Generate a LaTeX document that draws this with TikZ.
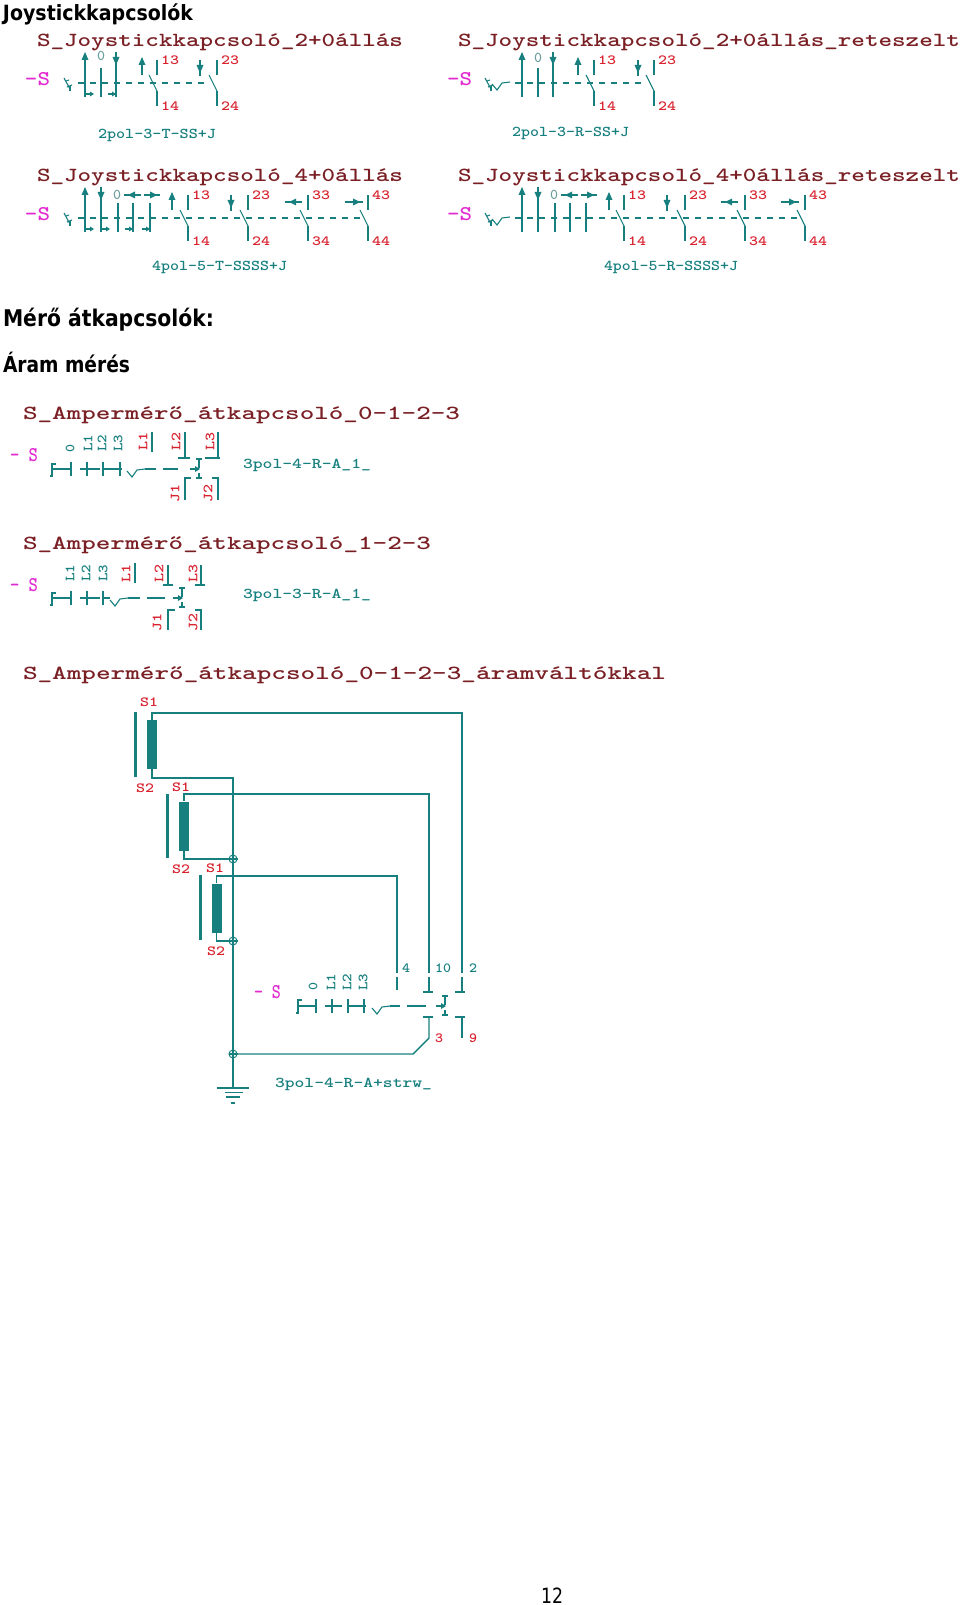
\documentclass[tikz,border=0pt]{standalone}
\usepackage{graphicx}
\usepackage{fontspec}
\setmainfont{DejaVu Sans}
\definecolor{tl}{HTML}{17807F}
\definecolor{dr}{HTML}{7A2025}
\definecolor{rd}{HTML}{D8232F}
\definecolor{mg}{HTML}{E22BD0}
\definecolor{gy}{HTML}{6F9E9E}
\newcounter{lb}
% fit text into an exact width, keeping natural height
\newcommand\fitw[2]{\resizebox{#1pt}{\height}{#2}}
\tikzset{
  wire/.style={draw=tl,line width=1.4pt},
  thin wire/.style={draw=tl,line width=1.1pt},
  dashline/.style={draw=tl,line width=1.1pt,dash pattern=on 6pt off 6pt},
  lbl/.style={inner sep=0pt,outer sep=0pt,anchor=center},
  titletxt/.style={lbl,text=dr,font=\ttfamily\bfseries\fontsize{20}{20}\selectfont},
  captxt/.style={lbl,text=tl,font=\ttfamily\bfseries\fontsize{15}{15}\selectfont},
  numtxt/.style={lbl,text=rd,font=\ttfamily\bfseries\fontsize{14}{14}\selectfont},
  tealtxt/.style={lbl,text=tl,font=\ttfamily\bfseries\fontsize{14}{14}\selectfont},
  graytxt/.style={lbl,text=gy,font=\ttfamily\bfseries\fontsize{15}{15}\selectfont},
  magtxt/.style={lbl,text=mg,font=\ttfamily\bfseries\fontsize{21}{21}\selectfont},
  headtxt/.style={inner sep=0pt,outer sep=0pt,anchor=base west,font=\bfseries\fontsize{21}{21}\selectfont},
  ctbar/.style={fill=tl,draw=none},
  junction/.style={circle,draw=tl,line width=1pt,fill=white,minimum size=8pt,inner sep=0pt},
}
% #1 style, #2 x-left, #3 x-right, #4 y, #5 text
\newcommand\tx[5]{\stepcounter{lb}\pgfmathsetmacro\twd{(#3)-(#2)}\pgfmathsetmacro\tcx{((#2)+(#3))/2}\node[#1] (t\thelb) at (\tcx,#4) {\fitw{\twd}{#5}};}
% rotated label: #1 style, #2 x, #3 y, #4 length, #5 text
\newcommand\rtx[5]{\stepcounter{lb}\node[#1,rotate=90] (t\thelb) at (#2,#3) {\fitw{#4}{#5}};}
% arrows: vertical with head up / down, horizontal with head left / right
\newcommand\upA[3]{\draw[wire] (#1,#2)--(#1,#3);\fill[tl] (#1,#2-2)--(#1-3.5,#2+6)--(#1+3.5,#2+6)--cycle;}
\newcommand\dnA[3]{\draw[wire] (#1,#2)--(#1,#3);\fill[tl] (#1-3.5,#2+5)--(#1+3.5,#2+5)--(#1,#2+13)--cycle;}
\newcommand\ltA[3]{\draw[wire] (#1,#3)--(#2,#3);\fill[tl] (#1+4,#3)--(#1+11,#3-3.5)--(#1+11,#3+3.5)--cycle;}
\newcommand\rtA[3]{\draw[wire] (#1,#3)--(#2,#3);\fill[tl] (#2-3,#3)--(#2-10,#3-3.5)--(#2-10,#3+3.5)--cycle;}
\newcommand\smR[2]{\draw[thin wire] (#1,#2)--(#1+8,#2);\fill[tl] (#1+9,#2)--(#1+5,#2-2.5)--(#1+5,#2+2.5)--cycle;}
\newcommand\smL[2]{\draw[thin wire] (#1,#2)--(#1-8,#2);\fill[tl] (#1,#2)--(#1-4,#2-2.5)--(#1-4,#2+2.5)--cycle;}
% switch: #1 x, #2 top y, #3 upper label, #4 lower label
\newcommand\sw[4]{\draw[wire] (#1,#2)--(#1,#2+15);\draw[thin wire] (#1-8,#2+15)--(#1,#2+31);\draw[wire] (#1,#2+31)--(#1,#2+46);
  \tx{numtxt}{#1+4}{#1+22}{#2}{#3}\tx{numtxt}{#1+4}{#1+22}{#2+46}{#4}}
% lever symbol at x, y (dash level)
\newcommand\lev[2]{\draw[thin wire] (#1,#2-5)--(#1+6,#2+6);\draw[thin wire] (#1+2,#2-2)--(#1+5,#2-3);\draw[thin wire] (#1+3,#2+4)--(#1+8,#2+2);\draw[thin wire] (#1+6,#2+3)--(#1+6,#2+8);}
\newcommand\vsym[2]{\draw[thin wire] (#1,#2+1)--(#1+5,#2+7)--(#1+10,#2)--(#1+18,#2-1);}
% change-over core: #1 x, #2 mech y
\newcommand\core[2]{\draw[thin wire] (#1-3,#2-10)--(#1+3,#2-10) (#1,#2-10)--(#1,#2-1);
  \draw[thin wire] (#1-9,#2)--(#1,#2);\fill[tl] (#1+1,#2)--(#1-4,#2-3)--(#1-4,#2+3)--cycle;
  \draw[thin wire] (#1,#2+4)--(#1,#2+9) (#1-3,#2+9)--(#1+3,#2+9);}
\begin{document}
\begin{tikzpicture}[x=1pt,y=-1pt]
\useasboundingbox (0,0) rectangle (960,1605);
% headings
\node[headtxt] (h1) at (3,21) {\resizebox{190pt}{\height}{Joystickkapcsolók}};
\node[headtxt] (h2) at (3,326) {\resizebox{211pt}{\height}{\fontsize{23}{23}\selectfont Mérő átkapcsolók:}};
\node[headtxt] (h3) at (3,372) {\resizebox{127pt}{\height}{\fontsize{22}{22}\selectfont Áram mérés}};
\node[inner sep=0pt,anchor=base west,font=\fontsize{21}{21}\selectfont] (pg) at (541,1603) {\resizebox{22pt}{\height}{12}};
% ---- row 1 left
\tx{titletxt}{37}{403}{42}{S\_Joystickkapcsoló\_2+0állás}
\tx{magtxt}{25}{50}{79}{-S}
\lev{64}{83}
\draw[dashline] (78,83)--(205,83);
\upA{85}{54}{97}\smR{85}{94}
\draw[wire] (101,68)--(101,97);
\tx{graytxt}{97}{105}{56}{0}
\dnA{116}{52}{97}\smL{116}{94}
\upA{142}{59}{75}
\sw{157}{60}{13}{14}
\dnA{200}{60}{76}
\sw{217}{60}{23}{24}
\tx{captxt}{98}{216}{135}{2pol-3-T-SS+J}
% ---- row 1 right
\tx{titletxt}{458}{960}{42}{S\_Joystickkapcsoló\_2+0állás\_reteszelt}
\tx{magtxt}{447}{472}{79}{-S}
\lev{485}{83}\vsym{492}{83}
\draw[dashline] (515,83)--(642,83);
\upA{522}{54}{97}
\draw[wire] (538,68)--(538,97);
\tx{graytxt}{534}{542}{58}{0}
\dnA{553}{52}{97}
\upA{578}{59}{75}
\sw{594}{60}{13}{14}
\dnA{638}{60}{76}
\sw{654}{60}{23}{24}
\tx{captxt}{512}{629}{133}{2pol-3-R-SS+J}
% ---- row 2 left
\tx{titletxt}{37}{403}{177}{S\_Joystickkapcsoló\_4+0állás}
\tx{magtxt}{25}{50}{214}{-S}
\lev{64}{218}
\draw[dashline] (78,218)--(365,218);
\upA{85}{189}{232}\smR{85}{229}
\dnA{101}{187}{232}\smR{101}{229}
\draw[wire] (118,203)--(118,232);
\tx{graytxt}{113}{121}{195}{0}
\draw[wire] (133,203)--(133,232);\smL{133}{229}\ltA{124}{141}{195}
\draw[wire] (150,203)--(150,232);\smL{150}{229}\rtA{144}{160}{195}
\upA{172}{194}{210}
\sw{188}{195}{13}{14}
\dnA{231}{195}{211}
\sw{248}{195}{23}{24}
\ltA{285}{302}{202}
\sw{308}{195}{33}{34}
\rtA{345}{363}{202}
\sw{368}{195}{43}{44}
\tx{captxt}{152}{287}{267}{4pol-5-T-SSSS+J}
% ---- row 2 right
\tx{titletxt}{458}{960}{177}{S\_Joystickkapcsoló\_4+0állás\_reteszelt}
\tx{magtxt}{447}{472}{214}{-S}
\lev{485}{218}\vsym{492}{218}
\draw[dashline] (515,218)--(802,218);
\upA{522}{189}{232}
\dnA{538}{187}{232}
\draw[wire] (555,203)--(555,232);
\tx{graytxt}{550}{558}{195}{0}
\draw[wire] (570,203)--(570,232);\ltA{561}{578}{195}
\draw[wire] (586,203)--(586,232);\rtA{581}{597}{195}
\upA{609}{194}{210}
\sw{624}{195}{13}{14}
\dnA{667}{195}{211}
\sw{685}{195}{23}{24}
\ltA{721}{738}{202}
\sw{745}{195}{33}{34}
\rtA{781}{799}{202}
\sw{805}{195}{43}{44}
\tx{captxt}{604}{738}{267}{4pol-5-R-SSSS+J}
% ---- ammeter 1
\tx{titletxt}{23}{460}{415}{S\_Ampermérő\_átkapcsoló\_0-1-2-3}
\tx{magtxt}{10}{38}{455}{- S}
\rtx{tealtxt}{70}{448}{8}{0}
\rtx{tealtxt}{88}{443}{17}{L1}
\rtx{tealtxt}{102}{443}{17}{L2}
\rtx{tealtxt}{118}{443}{17}{L3}
\rtx{numtxt}{143}{441}{18}{L1}
\rtx{numtxt}{176}{441}{18}{L2}
\rtx{numtxt}{210}{441}{18}{L3}
\draw[wire] (152,432)--(152,452);
\draw[wire] (185,432)--(185,458) (178,458)--(190,458);
\draw[wire] (218,432)--(218,458) (205,458)--(220,458);
\draw[wire] (56,464)--(52,464)--(52,476)--(50,476) (52,469)--(71,469) (71,462)--(71,476);
\draw[wire] (80,469)--(100,469) (87,462)--(87,476);
\draw[wire] (103,462)--(103,476) (103,469)--(122,469) (120,462)--(120,476);
\vsym{127}{470}
\draw[wire] (145,469)--(156,469) (163,469)--(178,469);
\core{199}{469}
\draw[wire] (185,500)--(185,478)--(191,478);
\draw[wire] (218,500)--(218,478)--(212,478);
\rtx{numtxt}{175}{493}{18}{J1}
\rtx{numtxt}{208}{493}{18}{J2}
\tx{captxt}{243}{371}{465}{3pol-4-R-A\_1\_}
% ---- ammeter 2
\tx{titletxt}{23}{431}{545}{S\_Ampermérő\_átkapcsoló\_1-2-3}
\tx{magtxt}{10}{38}{585}{- S}
\rtx{tealtxt}{70}{573}{17}{L1}
\rtx{tealtxt}{86}{573}{17}{L2}
\rtx{tealtxt}{103}{573}{17}{L3}
\rtx{numtxt}{126}{573}{18}{L1}
\rtx{numtxt}{159}{573}{18}{L2}
\rtx{numtxt}{193}{573}{18}{L3}
\draw[wire] (135,563)--(135,583);
\draw[wire] (168,565)--(168,585) (163,585)--(173,585);
\draw[wire] (201,565)--(201,585) (195,585)--(205,585);
\draw[wire] (56,593)--(52,593)--(52,605)--(50,605) (52,598)--(71,598) (71,591)--(71,605);
\draw[wire] (80,598)--(100,598) (87,591)--(87,605);
\draw[wire] (103,591)--(103,605) (103,598)--(110,598);
\vsym{110}{599}
\draw[wire] (128,598)--(140,598) (147,598)--(165,598);
\core{182}{598}
\draw[wire] (168,630)--(168,610)--(175,610);
\draw[wire] (201,630)--(201,610)--(195,610);
\rtx{numtxt}{157}{622}{18}{J1}
\rtx{numtxt}{193}{622}{18}{J2}
\tx{captxt}{243}{371}{595}{3pol-3-R-A\_1\_}
% ---- ammeter with current transformers
\tx{titletxt}{23}{666}{675}{S\_Ampermérő\_átkapcsoló\_0-1-2-3\_áramváltókkal}
\tx{numtxt}{140}{158}{702}{S1}
\tx{numtxt}{136}{154}{788}{S2}
\tx{numtxt}{172}{190}{787}{S1}
\tx{numtxt}{172}{190}{869}{S2}
\tx{numtxt}{206}{224}{868}{S1}
\tx{numtxt}{207}{225}{951}{S2}
% transformer secondaries (bars) and windings
\fill[ctbar] (133.5,712) rectangle (136.5,777);
\fill[ctbar] (165.5,794) rectangle (168.5,858);
\fill[ctbar] (198.5,875) rectangle (201.5,940);
\node[fill=tl,minimum width=10pt,minimum height=49pt,inner sep=0pt] (ct1) at (152,744.5) {};
\node[fill=tl,minimum width=10pt,minimum height=49pt,inner sep=0pt] (ct2) at (184,826) {};
\node[fill=tl,minimum width=10pt,minimum height=49pt,inner sep=0pt] (ct3) at (216.5,908) {};
% nodes on the common line
\coordinate (top0) at (233,778);
\coordinate (gnd) at (233,1088);
\coordinate (c4t) at (397,973);\coordinate (c4b) at (397,977);\coordinate (c4e) at (397,990);
\coordinate (c10t) at (429,973);\coordinate (c10b) at (429,977);\coordinate (c10e) at (429,992);
\coordinate (c2t) at (462,973);\coordinate (c2b) at (462,977);\coordinate (c2e) at (462,992);
\coordinate (kink) at (413,1054);\coordinate (c3) at (429,1038);
\draw[wire] (ct1.south) |- (top0) -- (gnd);
\node[junction] (j1) at (233,859) {};
\node[junction] (j2) at (233,941) {};
\node[junction] (j3) at (233,1054) {};
\draw[wire] (j1.north)--(j1.south) (j1.west)--(j1.east);
\draw[wire] (j2.north)--(j2.south) (j2.west)--(j2.east);
\draw[wire] (j3.north)--(j3.south) (j3.west)--(j3.east);
\draw[wire] (ct2.south) |- (j1.west);
\draw[wire] (ct3.south) |- (j2.west);
\draw[wire] (ct1.north) |- (462,713) -- (c2t);
\draw[wire] (ct2.north) |- (429,794) -- (c10t);
\draw[wire] (ct3.north) |- (397,876) -- (c4t);
\draw[wire] (c4b)--(c4e);
\draw[wire] (c10b)--(c10e) (423,992)--(433,992);
\draw[wire] (c2b)--(c2e) (455,992)--(465,992);
\tx{tealtxt}{402}{410}{968}{4}
\tx{tealtxt}{435}{451}{968}{10}
\tx{tealtxt}{469}{477}{968}{2}
\tx{magtxt}{254}{281}{992}{- S}
\rtx{tealtxt}{313}{986}{8}{0}
\rtx{tealtxt}{331}{982}{17}{L1}
\rtx{tealtxt}{347}{982}{17}{L2}
\rtx{tealtxt}{363}{982}{17}{L3}
\draw[wire] (302,1000)--(298,1000)--(298,1013)--(296,1013) (298,1006)--(316,1006) (316,999)--(316,1013);
\draw[wire] (325,1006)--(342,1006) (332,999)--(332,1013);
\draw[wire] (348,999)--(348,1013) (348,1006)--(366,1006) (364,999)--(364,1013);
\vsym{372}{1007}
\draw[wire] (390,1006)--(400,1006) (407,1006)--(426,1006);
\core{445}{1006}
\draw[wire] (433,1017)--(429,1017)--(c3)--(kink)--(j3.east);
\draw[wire] (423,1017)--(433,1017);
\draw[wire] (455,1017)--(462,1017)--(462,1038) (462,1017)--(465,1017);
\tx{numtxt}{435}{443}{1038}{3}
\tx{numtxt}{469}{477}{1038}{9}
\tx{captxt}{275}{432}{1084}{3pol-4-R-A+strw\_}
% earth
\draw[wire] (217,1088)--(249,1088) (225,1092.5)--(243,1092.5) (226,1097)--(240,1097);
\draw[wire] (231,1103)--(235,1103);
\end{tikzpicture}
\end{document}
